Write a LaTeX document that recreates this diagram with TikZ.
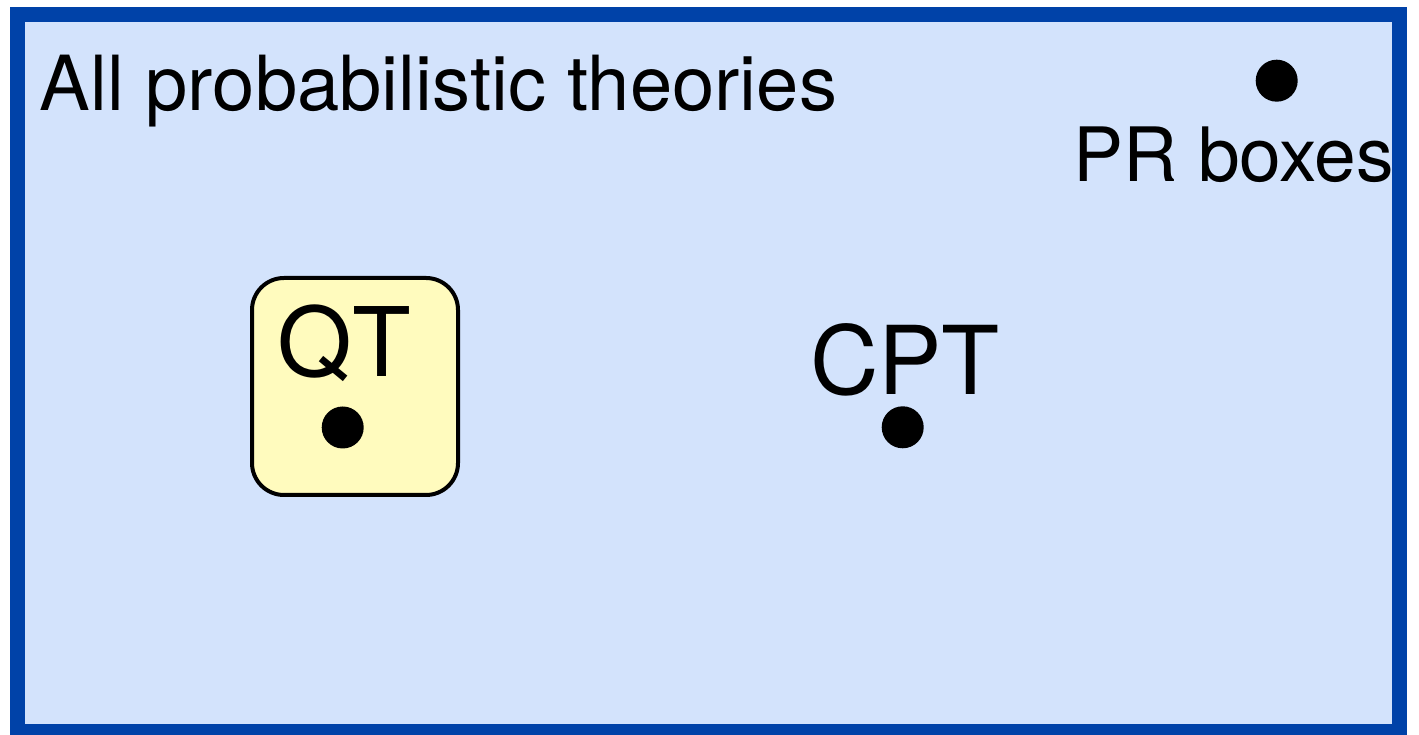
\documentclass[tikz,border=0pt]{standalone}
\usepackage{fontspec}
\setmainfont{TeX Gyre Heros}
\definecolor{frameblue}{HTML}{0042A8}
\definecolor{regionblue}{HTML}{D3E3FC}
\definecolor{qtyellow}{HTML}{FFFBBE}
\tikzset{
  label text/.style={inner sep=0pt, anchor=base, text=black},
  theory dot/.style={circle, fill=black, inner sep=0pt, minimum size=42pt},
}
\begin{document}
\begin{tikzpicture}[x=1pt, y=1pt]
  % page area
  \fill[white] (0,0) rectangle (1419,735);
  \useasboundingbox (0,0) rectangle (1419,735);
  % region of all probabilistic theories
  \draw[line width=15pt, draw=frameblue, fill=regionblue] (17,3.5) rectangle (1399,720.5);
  \node[label text, font=\fontsize{76}{80}\selectfont] (all) at (438.5,624) {All probabilistic theories};
  % quantum theory
  \draw[line width=4pt, draw=black, fill=qtyellow, rounded corners=32pt] (252,240) rectangle (458,457);
  \node[label text, font=\fontsize{96}{100}\selectfont] (qt) at (344.5,358) {QT};
  \node[theory dot] (qtdot) at (342.7,307.5) {};
  % classical probability theory
  \node[label text, font=\fontsize{95}{100}\selectfont] (cpt) at (905,340) {CPT};
  \node[theory dot] (cptdot) at (902.7,307.7) {};
  % PR boxes
  \node[theory dot] (prdot) at (1276.7,654.3) {};
  \node[label text, font=\fontsize{75}{80}\selectfont] (pr) at (1233.5,553.3) {PR boxes};
\end{tikzpicture}
\end{document}
